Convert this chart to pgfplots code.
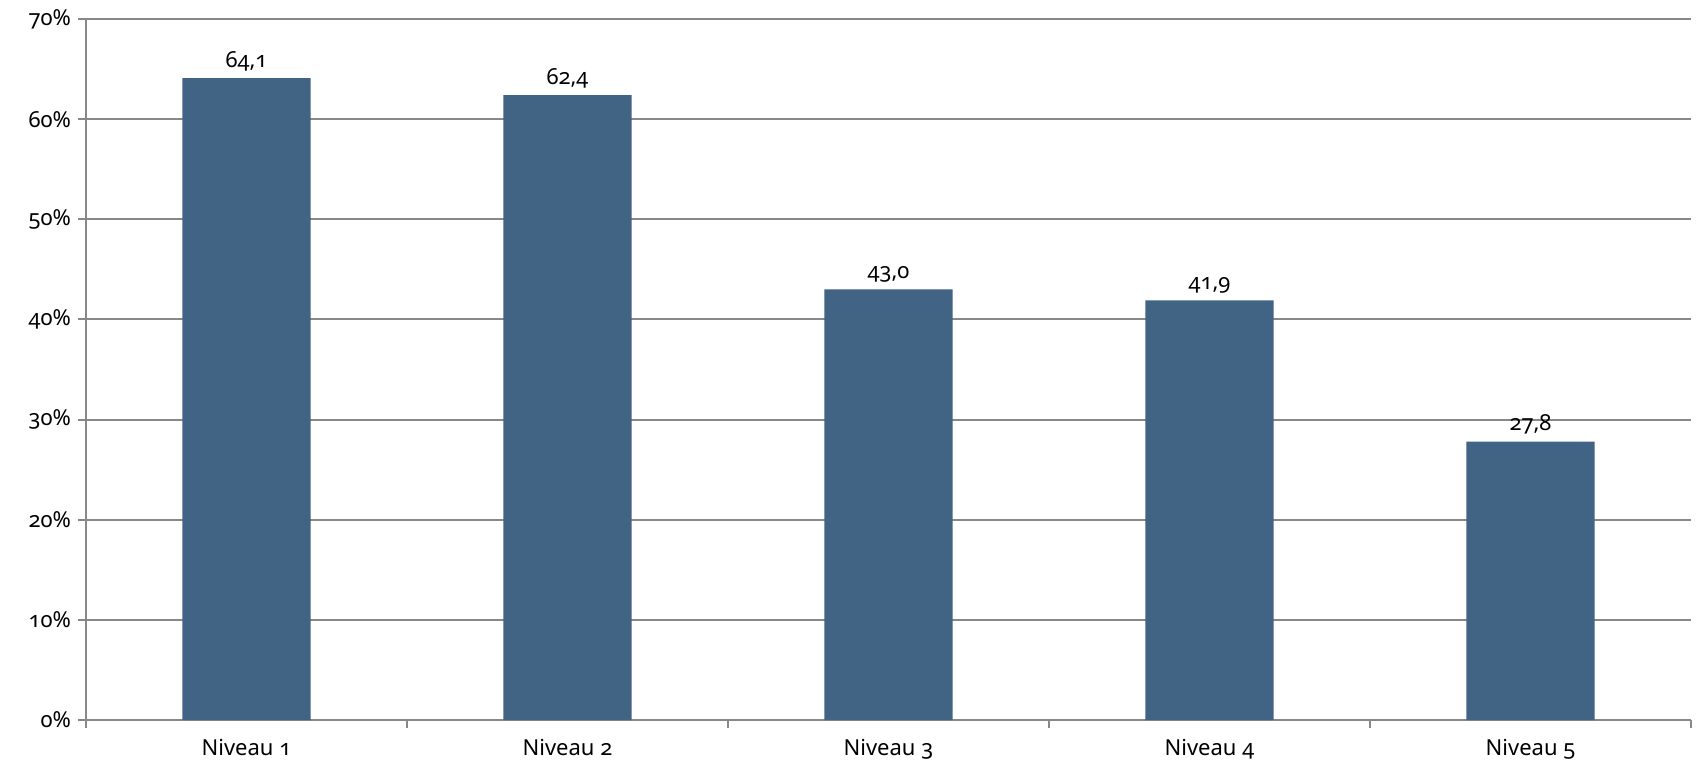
\documentclass[border=0pt]{standalone}
\usepackage{fontspec}
\setmainfont[Numbers=OldStyle]{Noto Sans}
\usepackage{pgfplots}
\pgfplotsset{compat=1.18}
\definecolor{barblue}{HTML}{416384}
\definecolor{gridgray}{HTML}{888888}
\begin{document}
\begin{tikzpicture}
\begin{axis}[
	at={(0,0)}, anchor=south west,
	scale only axis,
	width=802.5pt, height=350.5pt,
	ybar, bar width=64.15pt,
	xmin=-0.5, xmax=4.5,
	ymin=0, ymax=70,
	xtick={0,1,2,3,4},
	xticklabels={Niveau 1,Niveau 2,Niveau 3,Niveau 4,Niveau 5},
	minor xtick={-0.5,0.5,1.5,2.5,3.5,4.5},
	ytick={0,10,20,30,40,50,60,70},
	yticklabel={\textrm{\pgfmathprintnumber[assume math mode=true]{\tick}\%}},
	axis x line*=bottom, axis y line*=left,
	axis line style={gridgray, line width=1pt},
	ymajorgrids,
	major grid style={gridgray, line width=1pt},
	tick style={gridgray, line width=1pt},
	major x tick style={draw=none},
	tick align=outside,
	major tick length=4pt, minor tick length=4pt,
	font=\fontsize{11}{13}\selectfont,
	x tick label style={yshift=-2pt},
	/pgf/number format/assume math mode=true,
	nodes near coords={\pgfmathprintnumber[fixed,fixed zerofill,precision=1,use comma]{\pgfplotspointmeta}},
	every node near coord/.append style={black, inner sep=3.5pt, font=\fontsize{11}{13}\selectfont},
]
\addplot[fill=barblue, draw=none] coordinates {
	(0, 64.1)
	(1, 62.4)
	(2, 43.0)
	(3, 41.9)
	(4, 27.8)
};
\end{axis}
\path[use as bounding box] (-43pt,-23.5pt) rectangle (805pt,360pt);
\end{tikzpicture}
\end{document}
